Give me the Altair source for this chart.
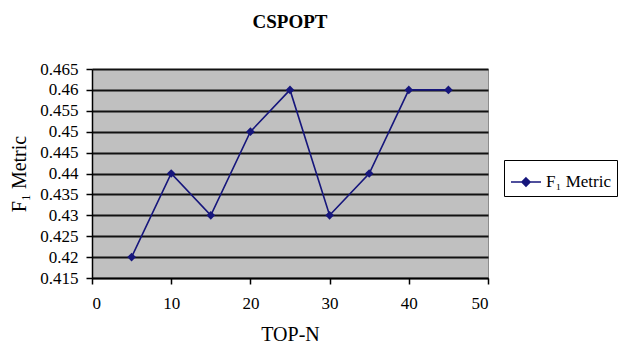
import altair as alt
import pandas as pd

top_n = [5, 10, 15, 20, 25, 30, 35, 40, 45]
f1 = [0.42, 0.44, 0.43, 0.45, 0.46, 0.43, 0.44, 0.46, 0.46]
series = ["F\u2081 Metric"] * len(top_n)

df = pd.DataFrame({"TOP-N": top_n, "F1": f1, "series": series})

NAVY = "#16167c"
SERIF = "Liberation Serif"

chart = alt.Chart(df).mark_line(
    strokeWidth=1.6,
    point=alt.OverlayMarkDef(shape="diamond", size=75, filled=True, color="#0e0e6e"),
).encode(
    x=alt.X("TOP-N:Q", title="TOP-N",
            scale=alt.Scale(domain=[0, 50], nice=False),
            axis=alt.Axis(values=[0, 10, 20, 30, 40, 50], grid=False,
                          labelPadding=11, titlePadding=13)),
    y=alt.Y("F1:Q", title="F\u2081 Metric",
            scale=alt.Scale(domain=[0.415, 0.465], nice=False, zero=False),
            axis=alt.Axis(values=[0.415, 0.42, 0.425, 0.43, 0.435, 0.44, 0.445, 0.45, 0.455, 0.46, 0.465],
                          format="~g", grid=True, gridColor="#111111", gridWidth=2.2,
                          labelPadding=8, titlePadding=10)),
    color=alt.Color("series:N", scale=alt.Scale(range=[NAVY]),
                    legend=alt.Legend(title=None, orient="none", legendX=412, legendY=91,
                                      strokeColor="black", fillColor="white", padding=6,
                                      labelFont=SERIF, labelFontSize=17, labelColor="black",
                                      labelOffset=4,
                                      symbolType="M-1,0L1,0M0,-0.27L0.27,0L0,0.27L-0.27,0Z",
                                      symbolSize=900, symbolStrokeWidth=1.6,
                                      symbolFillColor=NAVY, symbolStrokeColor=NAVY)),
).properties(
    width=396, height=209,
    background="white",
    title=alt.TitleParams("CSPOPT", font=SERIF, fontSize=19, fontWeight="bold",
                          color="black", offset=28, anchor="middle"),
    autosize=alt.AutoSizeParams(type="none"),
    padding={"left": 92, "top": 69, "right": 134, "bottom": 72},
).configure_view(
    fill="#c0c0c0", stroke="#8c8c8c", strokeWidth=1,
).configure_axis(
    labelFont=SERIF, labelFontSize=17, labelColor="black",
    titleFont=SERIF, titleFontSize=20, titleFontWeight="normal", titleColor="black",
    domainColor="black", domainWidth=1.5, tickColor="black", tickSize=6, tickWidth=1.5,
)

chart.save("out.html", embed_options={"renderer": "svg", "actions": False})
